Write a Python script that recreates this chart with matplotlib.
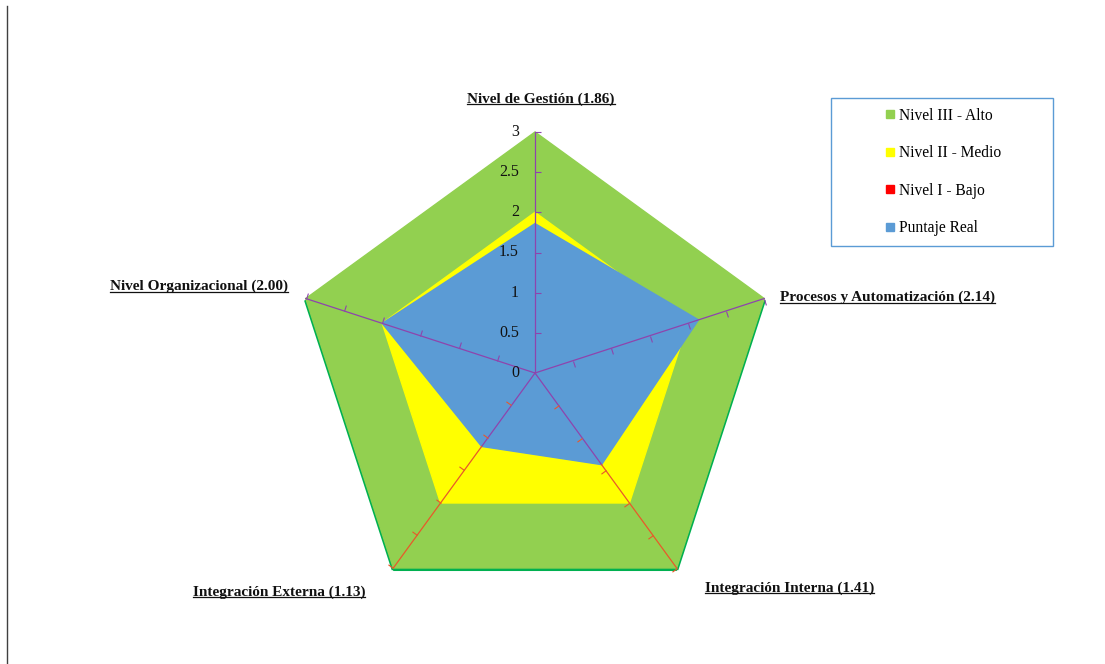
import numpy as np
import matplotlib.pyplot as plt
from matplotlib.lines import Line2D
from matplotlib.patches import Rectangle
from matplotlib.markers import MarkerStyle
from matplotlib.transforms import Affine2D
import matplotlib.patheffects as pe

plt.rcParams['font.family'] = ['Liberation Serif', 'DejaVu Serif']

# datos del gráfico
categorias = ['Nivel de Gestión', 'Procesos y Automatización', 'Integración Interna',
              'Integración Externa', 'Nivel Organizacional']
puntaje_real = [1.86, 2.14, 1.41, 1.13, 2.00]
nivel_alto = [3, 3, 3, 3, 3]
nivel_medio = [2, 2, 2, 2, 2]
nivel_bajo = [1, 1, 1, 1, 1]
escala = [0, 0.5, 1, 1.5, 2, 2.5, 3]
series_nombres = ['Nivel III - Alto', 'Nivel II - Medio', 'Nivel I - Bajo', 'Puntaje Real']
colores = ['#92d050', '#ffff00', '#ff0000', '#5b9bd5']

W, H = 1105, 664
fig = plt.figure(figsize=(W / 100, H / 100), dpi=100)
cx, cy, rad = 535, 373, 241
ax = fig.add_axes([(cx - rad) / W, (H - cy - rad) / H, 2 * rad / W, 2 * rad / H],
                  projection='polar')
ax.set_theta_offset(np.pi / 2)
ax.set_theta_direction(-1)
ax.set_ylim(0, 3)
ax.axis('off')

n = len(categorias)
ang = np.linspace(0, 2 * np.pi, n, endpoint=False)
ang_c = np.append(ang, ang[0])


def cerrar(v):
    return np.append(v, v[0])


# poligonos de niveles
sombra = '#00b050'
ax.fill(ang_c, cerrar(nivel_alto), color=colores[0], zorder=1, clip_on=False,
        path_effects=[pe.SimplePatchShadow(offset=(-1.2, -1.6), shadow_rgbFace=sombra, alpha=1),
                      pe.SimplePatchShadow(offset=(1.2, -1.6), shadow_rgbFace=sombra, alpha=1),
                      pe.SimplePatchShadow(offset=(0, -2.2), shadow_rgbFace=sombra, alpha=1),
                      pe.Normal()])
ax.fill(ang_c, cerrar(nivel_medio), color=colores[1], zorder=2, clip_on=False)
ax.fill(ang_c, cerrar(nivel_bajo), color=colores[2], zorder=3, clip_on=False)
ax.fill(ang_c, cerrar(puntaje_real), color=colores[3], zorder=4, clip_on=False)

# ejes radiales con marcas
morado = '#8e44ad'
naranja = '#e8592a'
for i, a in enumerate(ang):
    if i in (2, 3):
        ax.plot([a, a], [0, puntaje_real[i]], color=morado, lw=0.9, zorder=5, clip_on=False)
        ax.plot([a, a], [puntaje_real[i], 3], color=naranja, lw=0.9, zorder=5, clip_on=False)
        col = naranja
    else:
        ax.plot([a, a], [0, 3], color=morado, lw=0.9, zorder=5, clip_on=False)
        col = morado
    phi = 90 - np.degrees(a)
    m = MarkerStyle([(0, 0), (1, 0)], transform=Affine2D().rotate_deg(phi - 90))
    ax.plot([a] * (len(escala) - 1), escala[1:], ls='none', marker=m, ms=9,
            mec=col, mew=0.8, zorder=6, clip_on=False)

# valores de la escala
for r in escala:
    ax.annotate(f'{r:g}', xy=(0, r), xytext=(-16, 0), textcoords='offset pixels',
                ha='right', va='center', fontsize=11.5, color='#111111', zorder=7,
                annotation_clip=False)

# etiquetas de categorias
desplaz = [(6, 33, 'center'), (16, 1, 'left'), (28, -20, 'left'),
           (-28, -24, 'right'), (-18, 12, 'right')]
etiquetas = []
for i, a in enumerate(ang):
    dx, dy, ha = desplaz[i]
    t = ax.annotate(f'{categorias[i]} ({puntaje_real[i]:.2f})', xy=(a, 3), xytext=(dx, dy),
                    textcoords='offset pixels', ha=ha, va='center', fontsize=11,
                    fontweight='bold', color='#111111', annotation_clip=False)
    etiquetas.append(t)

# leyenda
handles = [Line2D([], [], ls='none', marker='s', ms=6, mfc=c, mec=c) for c in colores]
fig.legend(handles, series_nombres, loc='center', bbox_to_anchor=(943 / W, 1 - 172 / H),
           frameon=False, fontsize=11.2, labelspacing=1.38, handlelength=0.7,
           handletextpad=0.25, borderpad=0)
fig.add_artist(Rectangle((831 / W, 1 - 246 / H), 222 / W, 148 / H, transform=fig.transFigure,
                         fill=False, ec='#5b9bd5', lw=1))

# linea vertical izquierda
fig.add_artist(Line2D([7 / W, 7 / W], [0, 1 - 6 / H], transform=fig.transFigure,
                      color='#404040', lw=1))

# subrayado de etiquetas
fig.canvas.draw()
rend = fig.canvas.get_renderer()
for t in etiquetas:
    bb = t.get_window_extent(rend).transformed(fig.transFigure.inverted())
    yy = bb.y0 + 1.5 / H
    fig.add_artist(Line2D([bb.x0, bb.x1], [yy, yy], transform=fig.transFigure,
                          color='#111111', lw=0.9))

fig.savefig('out.png', dpi=100)
